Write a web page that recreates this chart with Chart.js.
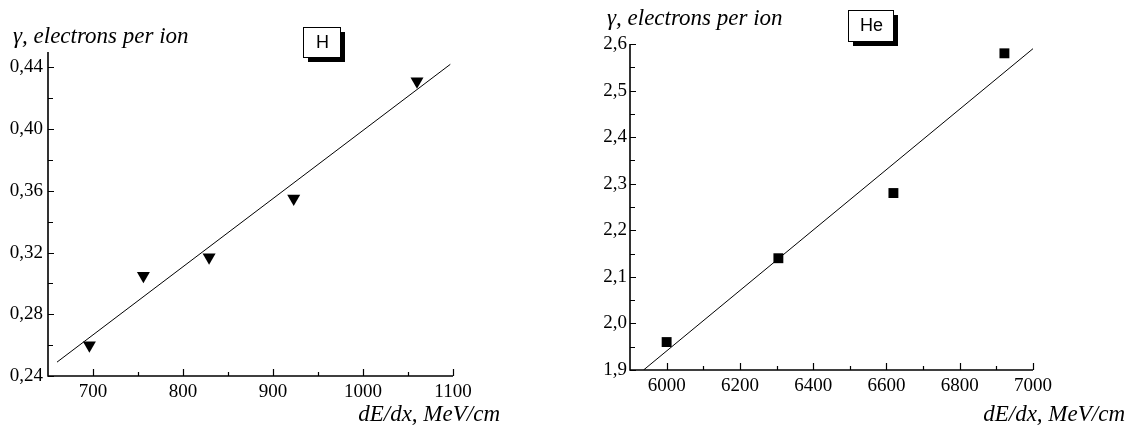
<!DOCTYPE html>
<html>
<head>
<meta charset="utf-8">
<script src="https://cdn.jsdelivr.net/npm/chart.js@4"></script>
<style>
  html, body { margin: 0; padding: 0; background: #fff; }
  #wrap { position: relative; width: 1130px; height: 426px; }
  .panel { position: absolute; top: 0; width: 565px; height: 426px; }
</style>
</head>
<body>
<div id="wrap">
  <div class="panel" style="left:0"><canvas id="hChart"></canvas></div>
  <div class="panel" style="left:565px"><canvas id="heChart"></canvas></div>
</div>
<script>
// H panel
const hX = [696, 756, 829, 923, 1060];
const hY = [0.260, 0.305, 0.317, 0.355, 0.431];
const hFitX = [660, 1097];
const hFitY = [0.249, 0.442];
const hTicksX = [700, 800, 900, 1000, 1100];
const hTicksY = [0.24, 0.28, 0.32, 0.36, 0.40, 0.44];

// He panel
const heX = [6000, 6305, 6619, 6922];
const heY = [1.96, 2.14, 2.28, 2.58];
const heFitX = [5937, 7000];
const heFitY = [1.90, 2.59];
const heTicksX = [6000, 6200, 6400, 6600, 6800, 7000];
const heTicksY = [1.9, 2.0, 2.1, 2.2, 2.3, 2.4, 2.5, 2.6];

const yTitle = 'γ, electrons per ion';
const xTitle = 'dE/dx, MeV/cm';
const serif = '"Liberation Serif", "Times New Roman", serif';

const pts = (xs, ys) => xs.map((x, i) => ({x: x, y: ys[i]}));
const mids = (t) => t.slice(1).map((v, i) => (v + t[i]) / 2);

function decor(o) {
  return {
    id: 'decor',
    afterDraw(chart) {
      const ctx = chart.ctx, a = chart.chartArea;
      const x = chart.scales.x, y = chart.scales.y;
      ctx.save();
      ctx.strokeStyle = '#000';
      ctx.lineCap = 'butt';

      // axes
      ctx.lineWidth = 1.6;
      ctx.beginPath();
      ctx.moveTo(a.left, a.top);
      ctx.lineTo(a.left, a.bottom);
      ctx.lineTo(a.right, a.bottom);
      ctx.stroke();

      // inward ticks
      ctx.lineWidth = 1.2;
      ctx.beginPath();
      const xt = (vals, len) => vals.forEach(v => {
        const px = Math.round(x.getPixelForValue(v)) + 0.5;
        ctx.moveTo(px, a.bottom); ctx.lineTo(px, a.bottom - len);
      });
      const yt = (vals, len) => vals.forEach(v => {
        const py = Math.round(y.getPixelForValue(v)) + 0.5;
        ctx.moveTo(a.left, py); ctx.lineTo(a.left + len, py);
      });
      xt(o.ticksX, 7); xt(o.minorX, 4);
      yt(o.ticksY, 6); yt(o.minorY, 5);
      ctx.stroke();

      // titles
      ctx.fillStyle = '#000';
      ctx.font = 'italic 23px ' + serif;
      ctx.textAlign = 'left';
      ctx.textBaseline = 'alphabetic';
      ctx.fillText(yTitle, o.yt[0], o.yt[1]);
      ctx.textAlign = 'right';
      ctx.fillText(xTitle, o.xt[0], o.xt[1]);

      // label box with shadow
      const b = o.box;
      ctx.fillRect(b[0] + 5, b[1] + 5, b[2], b[3]);
      ctx.fillStyle = '#fff';
      ctx.fillRect(b[0], b[1], b[2], b[3]);
      ctx.lineWidth = 1;
      ctx.strokeRect(b[0] + 0.5, b[1] + 0.5, b[2], b[3]);
      ctx.fillStyle = '#000';
      ctx.font = '18px "Liberation Sans", Arial, sans-serif';
      ctx.textAlign = 'center';
      ctx.textBaseline = 'middle';
      ctx.fillText(o.label, b[0] + b[2] / 2 + 1, b[1] + b[3] / 2 + 1);
      ctx.restore();
    }
  };
}

function makeChart(id, o) {
  return new Chart(document.getElementById(id), {
    type: 'scatter',
    data: {
      datasets: [
        {
          data: pts(o.xs, o.ys),
          backgroundColor: '#000',
          borderColor: '#000',
          borderWidth: 0,
          pointStyle: o.style,
          rotation: o.rot,
          pointRadius: o.r,
          pointHoverRadius: o.r
        },
        {
          type: 'line',
          data: pts(o.fitX, o.fitY),
          borderColor: '#000',
          borderWidth: 1,
          pointRadius: 0,
          fill: false
        }
      ]
    },
    options: {
      responsive: true,
      maintainAspectRatio: false,
      animation: false,
      layout: { padding: { top: o.pad[0], right: o.pad[1], bottom: 0, left: 0 } },
      plugins: { legend: { display: false }, tooltip: { enabled: false } },
      scales: {
        x: {
          type: 'linear',
          min: o.xr[0], max: o.xr[1],
          grid: { display: false, drawTicks: false },
          border: { display: false },
          afterFit: s => { s.height = o.xh; },
          afterBuildTicks: s => { s.ticks = o.ticksX.map(v => ({value: v})); },
          ticks: {
            color: '#000',
            padding: 5,
            maxRotation: 0,
            font: { family: serif, size: 19 },
            callback: v => String(v)
          }
        },
        y: {
          type: 'linear',
          min: o.yr[0], max: o.yr[1],
          grid: { display: false, drawTicks: false },
          border: { display: false },
          afterFit: s => { s.width = o.yw; },
          afterBuildTicks: s => { s.ticks = o.ticksY.map(v => ({value: v})); },
          ticks: {
            color: '#000',
            padding: o.ypad,
            font: { family: serif, size: 19 },
            callback: v => v.toFixed(o.dec).replace('.', ',')
          }
        }
      }
    },
    plugins: [decor(o)]
  });
}

makeChart('hChart', {
  xs: hX, ys: hY, fitX: hFitX, fitY: hFitY,
  ticksX: hTicksX, ticksY: hTicksY,
  minorX: [750, 850, 950, 1050], minorY: mids(hTicksY),
  style: 'triangle', rot: 180, r: 7.5,
  xr: [650, 1100], yr: [0.24, 0.45],
  pad: [52, 112], xh: 50, yw: 48, ypad: 5, dec: 2,
  yt: [13, 43], xt: [500, 421],
  box: [303, 27, 37, 30], label: 'H'
});

makeChart('heChart', {
  xs: heX, ys: heY, fitX: heFitX, fitY: heFitY,
  ticksX: heTicksX, ticksY: heTicksY,
  minorX: [6100, 6300, 6500, 6700, 6900], minorY: mids(heTicksY),
  style: 'rect', rot: 0, r: 7,
  xr: [5900, 7000], yr: [1.9, 2.6],
  pad: [44, 97], xh: 56, yw: 65, ypad: 3, dec: 1,
  yt: [42, 25], xt: [560, 421],
  box: [283, 10, 45, 31], label: 'He'
});
</script>
</body>
</html>
